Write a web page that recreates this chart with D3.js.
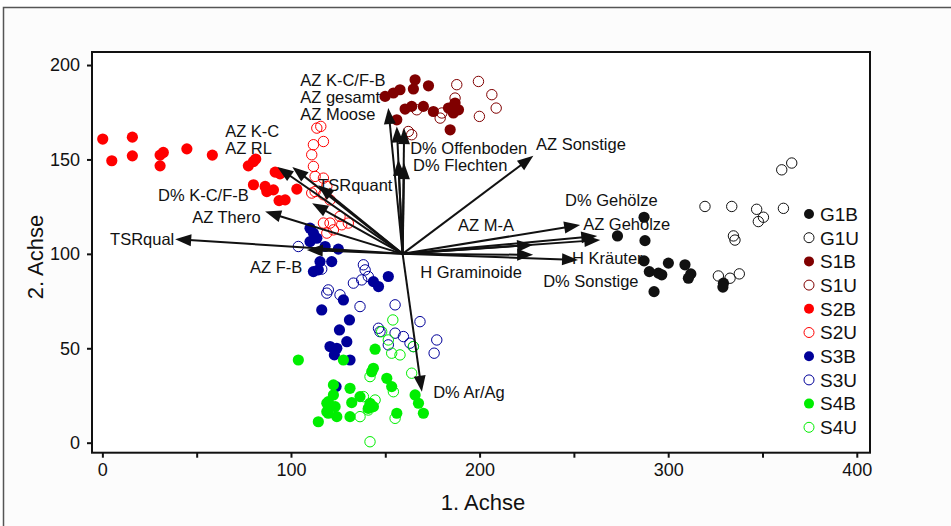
<!DOCTYPE html>
<html>
<head>
<meta charset="utf-8">
<script src="https://cdn.jsdelivr.net/npm/d3@7"></script>
<style>
  html, body { margin: 0; padding: 0; background: #ffffff; }
  svg { display: block; font-family: "Liberation Sans", Arial, sans-serif; }
</style>
</head>
<body>
<svg id="chart" width="951" height="526"></svg>
<script>
// ---------------- data ----------------
const xTicks = [0, 50, 100, 150, 200, 250, 300, 350, 400];
const xTickLabels = ["0", "", "100", "", "200", "", "300", "", "400"];
const yTicks = [0, 50, 100, 150, 200];
const yTickLabels = ["0", "50", "100", "150", "200"];

const seriesNames = ["G1B", "G1U", "S1B", "S1U", "S2B", "S2U", "S3B", "S3U", "S4B", "S4U"];
const seriesColors = ["#111111", "#111111", "#800000", "#800000", "#ff0000", "#ff0000", "#000099", "#000099", "#00ee00", "#00ee00"];
const seriesFilled = [true, false, true, false, true, false, true, false, true, false];

const G1B = [[287.2,119.4],[273.1,109.5],[287.7,107.0],[287.2,96.3],[300.1,95.1],[308.9,94.2],[290.0,90.6],[294.8,89.8],[296.6,88.9],[312.0,89.4],[310.7,87.1],[329.3,84.5],[329.0,82.4],[292.5,80.0]];
const G1U = [[360.2,144.5],[365.5,148.1],[319.5,125.1],[333.7,125.1],[346.9,123.6],[350.5,119.4],[347.8,117.1],[361.1,124.1],[334.6,109.5],[335.4,107.3],[326.6,88.3],[332.8,87.1],[337.7,89.4]];
const S1B = [[165.8,192.2],[172.9,189.0],[164.9,187.3],[157.8,186.9],[154.3,185.2],[149.9,183.4],[160.5,176.7],[164.0,178.1],[170.2,178.1],[175.5,175.4],[183.5,177.2],[187.0,179.9],[188.8,176.3],[186.1,174.6],[184.4,165.7],[156.1,171.0]];
const S1U = [[187.9,189.6],[199.4,191.3],[206.5,184.3],[208.8,177.2],[199.9,172.8],[187.0,182.5],[186.1,178.1],[180.0,174.6],[166.7,176.3],[164.0,163.1],[162.2,164.8],[179.1,171.9]];
const S2B = [[0.2,160.8],[15.9,161.8],[5.0,149.3],[15.9,151.9],[30.6,152.3],[32.3,153.7],[30.6,146.6],[44.8,155.6],[58.3,152.3],[77.4,146.6],[80.1,148.9],[81.3,150.2],[91.6,143.3],[94.2,142.4],[80.1,136.6],[86.3,135.7],[90.7,133.9],[93.7,128.2],[96.9,128.6],[103.1,134.3],[87.2,133.0]];
const S2U = [[113.7,166.6],[115.8,167.5],[117.2,159.5],[111.9,157.8],[111.0,152.5],[111.9,146.3],[112.8,141.0],[117.2,140.1],[119.0,135.7],[111.0,132.2],[112.8,133.0],[117.2,131.3],[120.7,128.6],[126.0,119.8],[130.4,116.3],[126.9,115.4],[120.7,116.3],[117.2,116.3],[122.5,112.7],[119.0,111.0]];
const S3B = [[110.1,113.6],[111.9,111.0],[113.7,108.3],[110.1,106.5],[118.1,103.9],[125.1,102.5],[115.4,95.9],[121.6,95.9],[111.9,90.6],[114.5,91.5],[151.6,88.0],[143.7,85.3],[146.4,82.7],[127.8,75.6],[116.3,70.3],[131.0,65.0],[125.7,59.7],[129.6,53.5],[120.7,50.9],[124.3,50.0],[123.0,46.5],[131.3,43.8],[123.9,29.7]];
const S3U = [[103.9,103.9],[116.3,91.9],[138.4,94.2],[139.3,91.5],[141.0,88.0],[137.5,86.2],[133.1,84.5],[119.8,80.9],[119.0,79.2],[126.0,78.3],[136.6,72.1],[155.2,73.0],[168.4,64.1],[146.4,60.6],[147.2,58.8],[155.2,58.0],[159.6,56.2],[163.1,52.7],[164.9,50.9],[151.6,51.8],[177.3,54.4],[175.9,47.4]];
const S4B = [[103.9,43.8],[127.8,43.8],[144.6,49.5],[143.7,39.4],[142.8,37.6],[150.8,34.1],[153.4,29.7],[122.5,30.6],[131.3,28.8],[136.6,24.4],[132.2,21.2],[122.5,25.3],[119.0,20.9],[123.4,19.1],[119.8,15.6],[114.5,11.1],[124.3,13.8],[131.3,13.8],[141.9,20.9],[143.7,19.1],[141.0,18.2],[156.1,15.6],[165.8,25.3],[167.6,20.9],[170.2,15.6],[119.8,21.7],[119.0,16.4]];
const S4U = [[154.0,65.0],[148.1,58.8],[151.6,54.4],[157.8,46.5],[164.9,50.9],[153.4,47.4],[164.0,36.8],[141.9,35.0],[154.3,27.0],[138.4,24.4],[144.6,22.6],[136.6,13.8],[141.0,17.3],[141.9,0.5],[155.2,12.9]];
const seriesData = [G1B, G1U, S1B, S1U, S2B, S2U, S3B, S3U, S4B, S4U];

// biplot arrows (environmental variables), origin and tips in axis units
const arrowOrigin = [159.2, 100.0];
const arrowNames = ["TSRqual", "AZ F-B", "AZ Thero", "AZ K-C", "AZ RL", "TSRquant", "D% K-C/F-B",
  "AZ K-C/F-B", "AZ gesamt", "AZ Moose", "D% Offenboden", "D% Flechten", "AZ Sonstige",
  "D% Gehölze", "AZ Gehölze", "D% Sonstige", "AZ M-A", "H Graminoide", "H Kräuter", "D% Ar/Ag"];
const arrowTipX = [38.6, 108.4, 86.3, 92.8, 100.7, 114.4, 111.2,
  151.6, 156.1, 160.0, 156.9, 160.0, 228.5,
  253.3, 262.4, 264.0, 228.4, 228.4, 252.2, 169.4];
const arrowTipY = [107.8, 102.1, 122.4, 146.0, 146.0, 136.4, 126.8,
  177.2, 167.5, 166.6, 149.8, 148.1, 151.9,
  115.3, 109.5, 107.4, 104.8, 99.5, 96.8, 27.0];
// label anchor (left end of text baseline), axis units
const labelX = [4.1, 78.3, 47.6, 65.1, 65.1, 114.4, 29.5,
  104.9, 104.9, 104.9, 163.2, 164.7, 229.9,
  245.3, 254.9, 233.7, 188.6, 168.5, 249.0, 175.4];
const labelY = [104.8, 89.9, 116.4, 162.0, 153.0, 133.4, 128.1,
  189.0, 180.0, 171.0, 153.0, 144.0, 155.1,
  125.4, 112.6, 82.5, 112.2, 87.3, 94.6, 23.7];

// ---------------- drawing ----------------
const svg = d3.select("#chart");

// outer frame
svg.append("rect").attr("x", 3.5).attr("y", 7.5).attr("width", 960).attr("height", 540)
  .attr("fill", "#fcfcfc").attr("stroke", "#555").attr("stroke-width", 1.5);

const x = d3.scaleLinear().domain([-5.5, 407]).range([92, 870]);
const y = d3.scaleLinear().domain([-5.3, 206.9]).range([452.7, 52]);

svg.append("rect").attr("x", 92).attr("y", 52).attr("width", 778).attr("height", 400.7)
  .attr("fill", "#ffffff");

// points
const pts = svg.append("g");
seriesData.forEach((arr, i) => {
  pts.append("g").selectAll("circle").data(arr).join("circle")
    .attr("cx", d => x(d[0])).attr("cy", d => y(d[1]))
    .attr("r", seriesFilled[i] ? 5.6 : 5.2)
    .attr("fill", seriesFilled[i] ? seriesColors[i] : "none")
    .attr("stroke", seriesColors[i])
    .attr("stroke-width", seriesFilled[i] ? 0 : 1);
});

// arrows
const arrows = svg.append("g");
const ox = x(arrowOrigin[0]), oy = y(arrowOrigin[1]);
arrowNames.forEach((n, i) => {
  const tx = x(arrowTipX[i]), ty = y(arrowTipY[i]);
  const dx = tx - ox, dy = ty - oy, L = Math.hypot(dx, dy);
  const ux = dx / L, uy = dy / L;
  const hl = 16, hw = 6;
  const bx = tx - ux * hl, by = ty - uy * hl;
  arrows.append("line").attr("x1", ox).attr("y1", oy).attr("x2", bx + ux * 2).attr("y2", by + uy * 2)
    .attr("stroke", "#111").attr("stroke-width", 2);
  arrows.append("path")
    .attr("d", `M${tx},${ty}L${bx - uy * hw},${by + ux * hw}L${bx + uy * hw},${by - ux * hw}Z`)
    .attr("fill", "#111");
});

// arrow labels
const labels = svg.append("g").attr("font-size", 16.5).attr("fill", "#111");
arrowNames.forEach((n, i) => {
  labels.append("text").attr("x", x(labelX[i])).attr("y", y(labelY[i])).text(n);
});

// plot box
svg.append("rect").attr("x", 92).attr("y", 52).attr("width", 778).attr("height", 400.7)
  .attr("fill", "none").attr("stroke", "#111").attr("stroke-width", 2);

// axes
const xAxis = svg.append("g").attr("transform", "translate(0,452.7)")
  .call(d3.axisBottom(x).tickValues(xTicks).tickSize(5).tickPadding(6)
    .tickFormat((d, i) => xTickLabels[i]));
xAxis.select(".domain").remove();
xAxis.selectAll("line").attr("stroke", "#111").attr("stroke-width", 2);
xAxis.selectAll("text").attr("font-size", 18).attr("fill", "#111")
  .attr("font-family", "'Liberation Sans', Arial, sans-serif");

const yAxis = svg.append("g").attr("transform", "translate(92,0)")
  .call(d3.axisLeft(y).tickValues(yTicks).tickSize(5).tickPadding(7)
    .tickFormat((d, i) => yTickLabels[i]));
yAxis.select(".domain").remove();
yAxis.selectAll("line").attr("stroke", "#111").attr("stroke-width", 2);
yAxis.selectAll("text").attr("font-size", 18).attr("fill", "#111")
  .attr("font-family", "'Liberation Sans', Arial, sans-serif");

// axis titles
svg.append("text").attr("x", 483).attr("y", 510).attr("text-anchor", "middle")
  .attr("font-size", 22).attr("fill", "#111").text("1. Achse");
svg.append("text").attr("transform", "translate(43,257) rotate(-90)").attr("text-anchor", "middle")
  .attr("font-size", 22).attr("fill", "#111").text("2. Achse");

// legend
const legend = svg.append("g");
seriesNames.forEach((n, i) => {
  const ly = 214 + i * 23.7;
  legend.append("circle").attr("cx", 809).attr("cy", ly).attr("r", 5)
    .attr("fill", seriesFilled[i] ? seriesColors[i] : "none")
    .attr("stroke", seriesColors[i]).attr("stroke-width", seriesFilled[i] ? 0 : 1);
  legend.append("text").attr("x", 820).attr("y", ly).attr("dy", "0.36em")
    .attr("font-size", 19).attr("fill", "#111").text(n);
});
</script>
</body>
</html>
